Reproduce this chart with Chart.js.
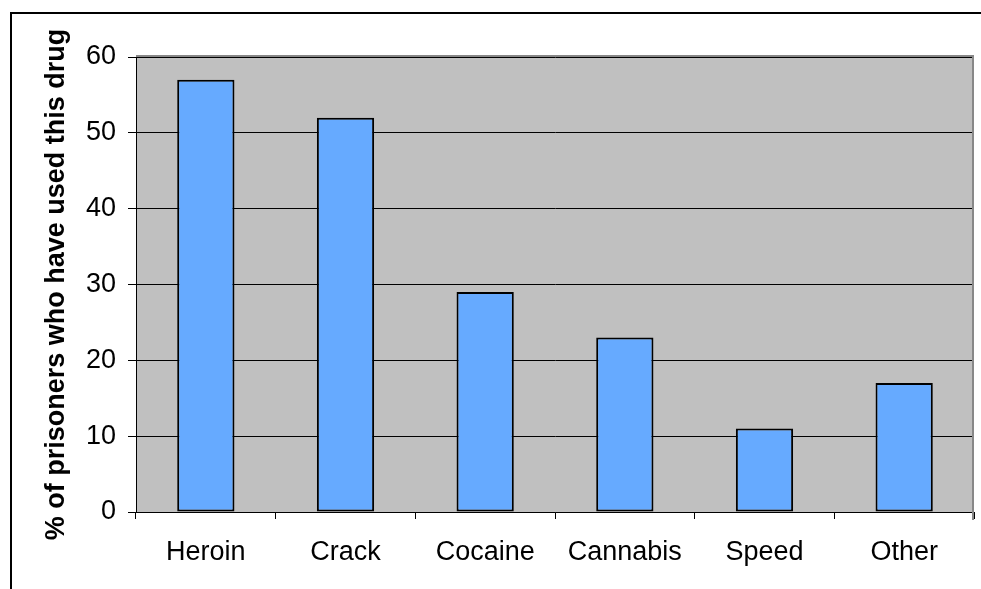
<!DOCTYPE html>
<html>
<head>
<meta charset="utf-8">
<script src="https://cdn.jsdelivr.net/npm/chart.js@4"></script>
<style>
  html, body { margin: 0; padding: 0; background: #fff; }
  #wrap { width: 981px; height: 589px; }
</style>
</head>
<body>
<div id="wrap"><canvas id="chart" width="981" height="589"></canvas></div>
<script>
const drugs = ["Heroin", "Crack", "Cocaine", "Cannabis", "Speed", "Other"];
const usedPercent = [57, 52, 29, 23, 11, 17];
const yTicks = [0, 10, 20, 30, 40, 50, 60];

const fontFamily = "'Liberation Sans', Arial, sans-serif";

// grey plot background + outer frame
const frame = {
  id: "frame",
  beforeDraw(chart) {
    const { ctx, chartArea } = chart;
    ctx.save();
    ctx.fillStyle = "#fff";
    ctx.fillRect(0, 0, chart.width, chart.height);
    ctx.fillStyle = "#c0c0c0";
    ctx.fillRect(chartArea.left, chartArea.top, chartArea.right - chartArea.left, chartArea.bottom - chartArea.top);
    ctx.strokeStyle = "#000";
    ctx.lineWidth = 2;
    ctx.beginPath();
    ctx.moveTo(11, chart.height);
    ctx.lineTo(11, 13);
    ctx.lineTo(chart.width, 13);
    ctx.stroke();
    ctx.restore();
  },
  afterDraw(chart) {
    const { ctx, chartArea } = chart;
    ctx.save();
    ctx.strokeStyle = "#888";
    ctx.lineWidth = 2;
    ctx.beginPath();
    ctx.moveTo(chartArea.left, chartArea.top - 1);
    ctx.lineTo(chartArea.right - 1, chartArea.top - 1);
    ctx.lineTo(chartArea.right - 1, chartArea.bottom + 8);
    ctx.stroke();
    ctx.restore();
  }
};

new Chart(document.getElementById("chart"), {
  type: "bar",
  data: {
    labels: drugs,
    datasets: [{
      data: usedPercent,
      backgroundColor: "#66aaff",
      borderColor: "#000",
      borderWidth: 2,
      borderSkipped: false,
      categoryPercentage: 1,
      barPercentage: 0.41
    }]
  },
  options: {
    responsive: false,
    animation: false,
    devicePixelRatio: 1,
    layout: { padding: { left: 40, top: 57, right: 7, bottom: 0 } },
    plugins: {
      legend: { display: false },
      tooltip: { enabled: false }
    },
    scales: {
      x: {
        afterFit(scale) { scale.height = 77; },
        grid: {
          offset: true,
          drawOnChartArea: false,
          drawTicks: true,
          tickLength: 7,
          color: "#000"
        },
        border: { color: "#000", width: 1 },
        ticks: {
          padding: 17,
          color: "#000",
          font: { family: fontFamily, size: 27 }
        }
      },
      y: {
        min: 0,
        max: 60,
        afterFit(scale) { scale.width = 96; },
        afterBuildTicks(scale) { scale.ticks = yTicks.map(v => ({ value: v })); },
        grid: {
          color: "#000",
          lineWidth: 1,
          drawTicks: true,
          tickLength: 8
        },
        border: { color: "#000", width: 1 },
        ticks: {
          padding: 12,
          color: "#000",
          font: { family: fontFamily, size: 27 }
        },
        title: {
          display: true,
          text: "% of prisoners who have used this drug",
          color: "#000",
          padding: 0,
          font: { family: fontFamily, size: 27, weight: "bold" }
        }
      }
    }
  },
  plugins: [frame]
});
</script>
</body>
</html>
